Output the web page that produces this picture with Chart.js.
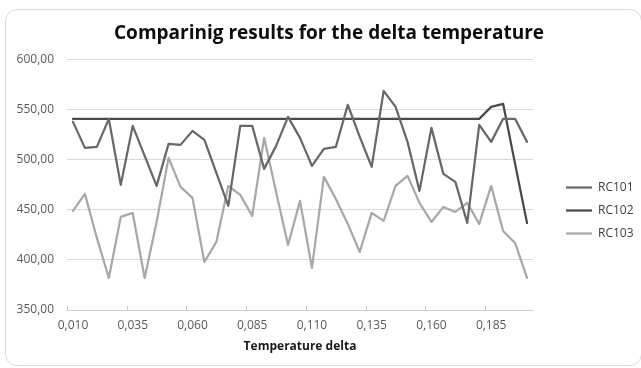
<!DOCTYPE html>
<html>
<head>
<meta charset="utf-8">
<script src="https://cdn.jsdelivr.net/npm/chart.js@4/dist/chart.umd.min.js"></script>
<style>
  html, body { margin: 0; padding: 0; background: #fff; width: 641px; height: 368px; overflow: hidden; }
  #frame {
    position: absolute; left: 5px; top: 9px;
    width: 635px; height: 355px;
    border: 1px solid #d9d9d9; border-radius: 12px;
    background: #fff; overflow: hidden;
  }
  canvas { display: block; }
</style>
</head>
<body>
<div id="frame"><canvas id="chart" width="635" height="355"></canvas></div>
<script>
// Temperature delta categories (x axis)
const deltaLabels = [
  '0,010', '0,015', '0,020', '0,025', '0,030', '0,035', '0,040', '0,045', '0,050', '0,055',
  '0,060', '0,065', '0,070', '0,075', '0,080', '0,085', '0,090', '0,095', '0,100', '0,105',
  '0,110', '0,115', '0,120', '0,125', '0,130', '0,135', '0,140', '0,145', '0,150', '0,155',
  '0,160', '0,165', '0,170', '0,175', '0,180', '0,185', '0,190', '0,195', '0,200'
];

// Results per instance
const rc101 = [
  538, 512, 513, 541, 475, 534, 504, 474, 516, 515,
  529, 520, 487, 454, 534, 534, 491, 514, 543, 522,
  494, 511, 513, 555, 523, 493, 569, 553, 518, 469,
  532, 486, 478, 437, 535, 518, 541, 541, 518
];
const rc102 = [
  541, 541, 541, 541, 541, 541, 541, 541, 541, 541,
  541, 541, 541, 541, 541, 541, 541, 541, 541, 541,
  541, 541, 541, 541, 541, 541, 541, 541, 541, 541,
  541, 541, 541, 541, 541, 553, 556, 496, 437
];
const rc103 = [
  449, 466, 422, 382, 443, 447, 382, 438, 502, 473,
  462, 398, 418, 474, 465, 444, 522, 468, 415, 459,
  392, 483, 461, 436, 408, 447, 439, 474, 484, 457,
  438, 453, 448, 457, 436, 474, 429, 417, 382
];

// Value axis ticks
const yTicks = [350, 400, 450, 500, 550, 600];

const seriesNames = ['RC101', 'RC102', 'RC103'];
const seriesColors = ['#686868', '#4a4a4a', '#a8a8a8'];

const FONT = '"Open Sans", "Liberation Sans", sans-serif';
const LABEL_STEP = 5;

// Short inside tick marks on the category axis, one per labelled group
const categoryTicks = {
  id: 'categoryTicks',
  afterDraw(chart) {
    const xs = chart.scales.x;
    const half = (xs.getPixelForValue(1) - xs.getPixelForValue(0)) / 2;
    const ctx = chart.ctx;
    ctx.save();
    ctx.strokeStyle = '#c8c8c8';
    ctx.lineWidth = 1;
    ctx.beginPath();
    for (let i = 0; i < deltaLabels.length; i += LABEL_STEP) {
      const x = Math.round(xs.getPixelForValue(i) - half) + 0.5;
      ctx.moveTo(x, xs.top);
      ctx.lineTo(x, xs.top - 4);
    }
    ctx.stroke();
    ctx.restore();
  }
};

// Fixed legend column width and offset within the right margin
const legendPlacement = {
  id: 'legendPlacement',
  beforeLayout(chart) {
    const lg = chart.legend;
    if (lg && !lg.__fixedWidth) {
      const fit = lg.fit;
      lg.fit = function () { fit.call(this); this.width = 108; };
      lg.__fixedWidth = true;
    }
  },
  afterLayout(chart) {
    const lg = chart.legend;
    lg.left += 22; lg.right += 22;
    lg.top += 23; lg.bottom += 23;
  }
};

new Chart(document.getElementById('chart'), {
  type: 'line',
  data: {
    labels: deltaLabels,
    datasets: [rc101, rc102, rc103].map((values, i) => ({
      label: seriesNames[i],
      data: values,
      borderColor: seriesColors[i],
      backgroundColor: seriesColors[i],
      borderWidth: 2.25,
      borderJoinStyle: 'round',
      borderCapStyle: 'round',
      pointRadius: 0,
      pointHoverRadius: 0,
      tension: 0,
      fill: false
    }))
  },
  options: {
    responsive: false,
    animation: false,
    events: [],
    layout: { padding: { left: 11, right: 0, top: 0, bottom: 0 } },
    plugins: {
      title: {
        display: true,
        text: 'Comparinig results for the delta temperature',
        color: '#0d0d0d',
        font: { family: FONT, size: 19, weight: 'bold' },
        padding: { top: 12, bottom: 15 }
      },
      legend: {
        display: true,
        position: 'right',
        labels: {
          usePointStyle: true,
          pointStyle: 'line',
          pointStyleWidth: 26,
          padding: 11,
          color: '#404040',
          font: { family: FONT, size: 12 }
        }
      },
      tooltip: { enabled: false }
    },
    scales: {
      x: {
        type: 'category',
        offset: true,
        afterFit(scale) { scale.height = 55; },
        grid: { display: false, drawTicks: false },
        border: { display: true, color: '#d0d0d0', width: 1 },
        ticks: {
          autoSkip: false,
          maxRotation: 0,
          minRotation: 0,
          padding: 8,
          color: '#595959',
          font: { family: FONT, size: 12 },
          callback(value, index) {
            return index % LABEL_STEP === 0 ? deltaLabels[index] : '';
          }
        },
        title: {
          display: true,
          text: 'Temperature delta',
          color: '#1a1a1a',
          font: { family: FONT, size: 12, weight: 'bold' },
          padding: { top: 0, bottom: 11 }
        }
      },
      y: {
        min: yTicks[0],
        max: yTicks[yTicks.length - 1],
        afterFit(scale) { scale.width = 50; },
        afterBuildTicks(scale) { scale.ticks = yTicks.map(v => ({ value: v })); },
        grid: { color: '#d9d9d9', lineWidth: 1, drawTicks: false },
        border: { display: false },
        ticks: {
          padding: 13,
          color: '#595959',
          font: { family: FONT, size: 12 },
          callback(value) { return value.toFixed(2).replace('.', ','); }
        }
      }
    }
  },
  plugins: [categoryTicks, legendPlacement]
});
</script>
</body>
</html>
